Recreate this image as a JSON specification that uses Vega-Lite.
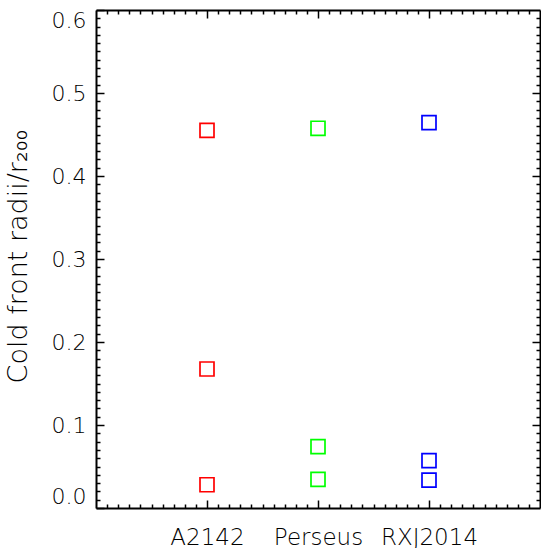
{
  "$schema": "https://vega.github.io/schema/vega-lite/v6.json",
  "autosize": {"type": "none"},
  "padding": {"left": 96, "top": 10, "right": 1, "bottom": 40},
  "width": 444,
  "height": 498,
  "background": "white",
  "config": {
    "view": {"stroke": null},
    "font": "DejaVu Sans",
    "axis": {
      "zindex": 1,
      "domainColor": "black",
      "domainWidth": 2,
      "tickColor": "black",
      "tickWidth": 1.5,
      "labelColor": "black",
      "labelFont": "DejaVu Sans",
      "labelFontWeight": 200,
      "titleFont": "DejaVu Sans",
      "titleFontWeight": 200,
      "titleColor": "black",
      "grid": false
    }
  },
  "data": {
    "values": [
      {"cluster": "A2142", "radius": 0.455},
      {"cluster": "A2142", "radius": 0.1675},
      {"cluster": "A2142", "radius": 0.028},
      {"cluster": "Perseus", "radius": 0.4575},
      {"cluster": "Perseus", "radius": 0.074},
      {"cluster": "Perseus", "radius": 0.0345},
      {"cluster": "RXJ2014", "radius": 0.4643},
      {"cluster": "RXJ2014", "radius": 0.057},
      {"cluster": "RXJ2014", "radius": 0.0337}
    ]
  },
  "resolve": {
    "scale": {"x": "independent"},
    "axis": {"x": "independent", "y": "independent"}
  },
  "layer": [
    {
      "mark": {"type": "point", "shape": "square", "size": 196, "strokeWidth": 1.7, "filled": false, "opacity": 1},
      "encoding": {
        "x": {
          "field": "cluster", "type": "nominal",
          "scale": {"type": "point", "padding": 1, "domain": ["A2142", "Perseus", "RXJ2014"]},
          "axis": {"orient": "bottom", "title": null, "labelAngle": 0, "labelFontSize": 23, "labelPadding": 26, "tickSize": -8, "domain": true}
        },
        "y": {
          "field": "radius", "type": "quantitative",
          "scale": {"domain": [0, 0.6], "nice": false, "zero": false},
          "axis": {"orient": "left", "title": "Cold front radii/r₂₀₀", "titleFontSize": 27, "titleX": -64, "titleY": 246, "titleAngle": -90, "titleBaseline": "bottom", "titleAlign": "center", "values": [0, 0.1, 0.2, 0.3, 0.4, 0.5, 0.6], "format": ".1f", "labelFontSize": 22, "labelPadding": 18, "labelFlush": true, "tickSize": -8, "domain": true}
        },
        "color": {
          "field": "cluster", "type": "nominal",
          "scale": {"domain": ["A2142", "Perseus", "RXJ2014"], "range": ["#ff0000", "#00ff00", "#0000ff"]},
          "legend": null
        }
      }
    },
    {
      "mark": {"type": "point", "opacity": 0},
      "encoding": {
        "x": {
          "datum": 2, "type": "quantitative",
          "scale": {"domain": [0, 4], "nice": false, "zero": false},
          "axis": {"orient": "bottom", "title": null, "labels": false, "domain": false, "tickSize": -4, "values": [0.1,0.2,0.3,0.4,0.5,0.6,0.7,0.8,0.9,1.1,1.2,1.3,1.4,1.5,1.6,1.7,1.8,1.9,2.1,2.2,2.3,2.4,2.5,2.6,2.7,2.8,2.9,3.1,3.2,3.3,3.4,3.5,3.6,3.7,3.8,3.9]}
        },
        "y": {
          "field": "radius", "type": "quantitative",
          "scale": {"domain": [0, 0.6], "nice": false, "zero": false},
          "axis": {"orient": "left", "title": null, "labels": false, "domain": false, "tickSize": -4, "values": [0.01,0.02,0.03,0.04,0.05,0.06,0.07,0.08,0.09,0.11,0.12,0.13,0.14,0.15,0.16,0.17,0.18,0.19,0.21,0.22,0.23,0.24,0.25,0.26,0.27,0.28,0.29,0.31,0.32,0.33,0.34,0.35,0.36,0.37,0.38,0.39,0.41,0.42,0.43,0.44,0.45,0.46,0.47,0.48,0.49,0.51,0.52,0.53,0.54,0.55,0.56,0.57,0.58,0.59]}
        }
      }
    },
    {
      "mark": {"type": "point", "opacity": 0},
      "encoding": {
        "x": {
          "datum": 2, "type": "quantitative",
          "scale": {"domain": [0, 4], "nice": false, "zero": false},
          "axis": {"orient": "top", "title": null, "labels": false, "domain": true, "tickSize": -8, "values": [1, 2, 3]}
        },
        "y": {
          "field": "radius", "type": "quantitative",
          "scale": {"domain": [0, 0.6], "nice": false, "zero": false},
          "axis": {"orient": "right", "title": null, "labels": false, "domain": true, "tickSize": -8, "values": [0.1, 0.2, 0.3, 0.4, 0.5]}
        }
      }
    },
    {
      "mark": {"type": "point", "opacity": 0},
      "encoding": {
        "x": {
          "datum": 2, "type": "quantitative",
          "scale": {"domain": [0, 4], "nice": false, "zero": false},
          "axis": {"orient": "top", "title": null, "labels": false, "domain": false, "tickSize": -4, "values": [0.1,0.2,0.3,0.4,0.5,0.6,0.7,0.8,0.9,1.1,1.2,1.3,1.4,1.5,1.6,1.7,1.8,1.9,2.1,2.2,2.3,2.4,2.5,2.6,2.7,2.8,2.9,3.1,3.2,3.3,3.4,3.5,3.6,3.7,3.8,3.9]}
        },
        "y": {
          "field": "radius", "type": "quantitative",
          "scale": {"domain": [0, 0.6], "nice": false, "zero": false},
          "axis": {"orient": "right", "title": null, "labels": false, "domain": false, "tickSize": -4, "values": [0.01,0.02,0.03,0.04,0.05,0.06,0.07,0.08,0.09,0.11,0.12,0.13,0.14,0.15,0.16,0.17,0.18,0.19,0.21,0.22,0.23,0.24,0.25,0.26,0.27,0.28,0.29,0.31,0.32,0.33,0.34,0.35,0.36,0.37,0.38,0.39,0.41,0.42,0.43,0.44,0.45,0.46,0.47,0.48,0.49,0.51,0.52,0.53,0.54,0.55,0.56,0.57,0.58,0.59]}
        }
      }
    }
  ]
}
